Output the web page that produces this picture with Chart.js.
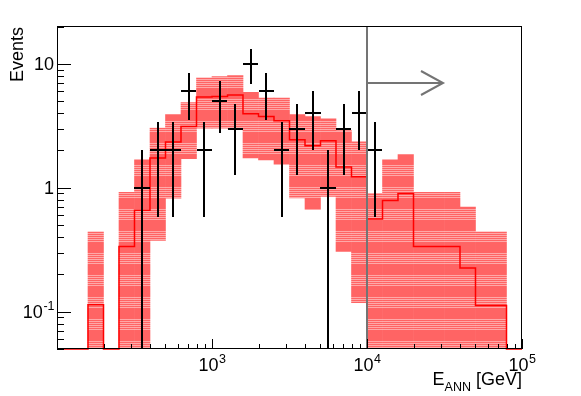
<!DOCTYPE html>
<html>
<head>
<meta charset="utf-8">
<script src="https://cdn.jsdelivr.net/npm/chart.js@4.4.1/dist/chart.umd.min.js"></script>
<style>
  html, body { margin: 0; padding: 0; background: #fff; }
</style>
</head>
<body>
<canvas id="chart" width="581" height="396"></canvas>
<script>
// bin centres in GeV, 10 bins per decade from 10^2 to 10^5
const energies = [112.2, 141.3, 177.8, 223.9, 281.8, 354.8, 446.7, 562.3, 707.9, 891.3,
  1122, 1413, 1778, 2239, 2818, 3548, 4467, 5623, 7079, 8913,
  11220, 14130, 17780, 22390, 28180, 35480, 44670, 56230, 70790, 89130];

// expected events (red histogram)
const expected = [0, 0, 0.114, 0, 0.336, 0.66, 1.74, 2.34, 3.12, 5.4,
  5.45, 5.6, 3.95, 3.76, 3.47, 2.44, 2.18, 2.39, 1.47, 1.23,
  0.56, 0.79, 0.9, 0.336, 0.336, 0.336, 0.225, 0.112, 0.112, 0];

// uncertainty band around the expectation (0 = below the axis)
const bandLow = [0, 0, 0, 0, 0, 0, 0.376, 0.826, 1.72, 3.03,
  3.03, 3.03, 1.74, 1.68, 1.55, 0.83, 0.665, 0.85, 0.306, 0.118,
  0, 0, 0, 0, 0, 0, 0, 0, 0, 0];
const bandHigh = [0, 0, 0.44, 0, 0.917, 1.68, 3.03, 3.9, 4.87, 7.7,
  7.9, 8.05, 5.9, 5.3, 5.3, 3.9, 3.75, 3.6, 2.9, 2.35,
  0.9, 1.68, 1.85, 0.92, 0.917, 0.917, 0.7, 0.44, 0.44, 0];

// observed events (black crosses)
const events = [0, 0, 0, 0, 0, 1, 2, 2, 6, 2,
  5, 3, 10, 6, 2, 3, 4, 1, 3, 4,
  2, 0, 0, 0, 0, 0, 0, 0, 0, 0];

const xMin = 100, xMax = 1e5;
const yMin = 0.05, yMax = 20.2;
const xLabels = [1e3, 1e4, 1e5];
const yLabels = [0.1, 1, 10];
const cutEnergy = 1e4;
const arrowLevel = 7;
const arrowEnd = 3.08e4;

const binStep = Math.pow(10, 0.05); // half a bin in log space
const FONT = '"Liberation Sans", Arial, Helvetica, sans-serif';

function hatch(ctx) {
  const c = document.createElement('canvas');
  c.width = 4; c.height = 22;
  const g = c.getContext('2d');
  g.fillStyle = '#ff6464';
  g.fillRect(0, 0, 4, 22);
  g.fillStyle = '#ffa8a8';
  for (let r = 11; r < 22; r += 2) g.fillRect(0, r, 4, 1);
  return ctx.createPattern(c, 'repeat');
}

// "10" with a superscript, like ROOT draws it
function powerLabel(ctx, base, exp, ax, by, align) {
  ctx.font = '18px ' + FONT;
  const wb = ctx.measureText(base).width;
  ctx.font = '12.5px ' + FONT;
  const we = exp ? ctx.measureText(exp).width : 0;
  const w = wb + we;
  const left = align === 'right' ? ax - w : ax - w / 2;
  ctx.textAlign = 'left';
  ctx.textBaseline = 'alphabetic';
  ctx.font = '18px ' + FONT;
  ctx.fillText(base, left, by);
  if (exp) {
    ctx.font = '12.5px ' + FONT;
    ctx.fillText(exp, left + wb + 0.5, by - 8);
  }
}

function powerParts(v) {
  const p = Math.round(Math.log10(v));
  if (p === 0) return ['1', ''];
  if (p === 1) return ['10', ''];
  return ['10', String(p)];
}

const rootStyle = {
  id: 'rootStyle',
  afterDatasetsDraw(chart) {
    const { ctx, chartArea: a, scales: { x, y } } = chart;
    ctx.save();

    // observed events with sqrt(N) error bars
    ctx.strokeStyle = '#000';
    ctx.lineWidth = 2;
    events.forEach((n, i) => {
      if (!n) return;
      const e = energies[i];
      const cx = Math.round(x.getPixelForValue(e));
      const cy = Math.round(y.getPixelForValue(n));
      const err = Math.sqrt(n);
      const top = Math.max(y.getPixelForValue(n + err), a.top);
      const bot = n - err > 0 ? Math.min(y.getPixelForValue(n - err), a.bottom) : a.bottom;
      ctx.beginPath();
      ctx.moveTo(Math.round(x.getPixelForValue(e / binStep)), cy);
      ctx.lineTo(Math.round(x.getPixelForValue(e * binStep)), cy);
      ctx.moveTo(cx, Math.round(top));
      ctx.lineTo(cx, Math.round(bot));
      ctx.stroke();
    });

    // cut line and arrow
    const cx = Math.round(x.getPixelForValue(cutEnergy));
    const ay = Math.round(y.getPixelForValue(arrowLevel));
    const ax = Math.round(x.getPixelForValue(arrowEnd));
    ctx.strokeStyle = '#747474';
    ctx.lineWidth = 2;
    ctx.beginPath();
    ctx.moveTo(cx, a.top);
    ctx.lineTo(cx, a.bottom);
    ctx.moveTo(cx, ay);
    ctx.lineTo(ax, ay);
    ctx.moveTo(ax - 22, ay - 12);
    ctx.lineTo(ax, ay);
    ctx.lineTo(ax - 22, ay + 12);
    ctx.stroke();

    // frame
    ctx.strokeStyle = '#000';
    ctx.lineWidth = 1;
    ctx.strokeRect(Math.round(a.left) + 0.5, Math.round(a.top) + 0.5,
      Math.round(a.right - a.left) - 1, Math.round(a.bottom - a.top) - 1);

    // ticks
    ctx.beginPath();
    for (let d = -2; d <= 1; d++) {
      for (let m = 1; m <= 9; m++) {
        const v = m * Math.pow(10, d);
        if (v < yMin || v > yMax) continue;
        const py = Math.round(y.getPixelForValue(v)) + 0.5;
        ctx.moveTo(a.left, py);
        ctx.lineTo(a.left + (m === 1 ? 14 : 7), py);
      }
    }
    for (let d = 2; d <= 5; d++) {
      for (let m = 1; m <= 9; m++) {
        const v = m * Math.pow(10, d);
        if (v < xMin || v > xMax) continue;
        const px = Math.round(x.getPixelForValue(v)) + 0.5;
        ctx.moveTo(px, a.bottom);
        ctx.lineTo(px, a.bottom - (m === 1 ? 10 : 5));
      }
    }
    ctx.stroke();

    // tick labels
    ctx.fillStyle = '#000';
    yLabels.forEach(v => {
      const [b, p] = powerParts(v);
      powerLabel(ctx, b, p, a.left - 3, y.getPixelForValue(v) + 6.5, 'right');
    });
    xLabels.forEach(v => {
      const [b, p] = powerParts(v);
      powerLabel(ctx, b, p, x.getPixelForValue(v), a.bottom + 22, 'center');
    });

    // axis titles
    ctx.font = '18px ' + FONT;
    const t1 = 'E', t2 = 'ANN', t3 = ' [GeV]';
    const w1 = ctx.measureText(t1).width, w3 = ctx.measureText(t3).width;
    ctx.font = '12.5px ' + FONT;
    const w2 = ctx.measureText(t2).width;
    const tx = a.right - (w1 + w2 + w3);
    const ty = a.bottom + 35.5;
    ctx.textAlign = 'left';
    ctx.font = '18px ' + FONT;
    ctx.fillText(t1, tx, ty);
    ctx.font = '12.5px ' + FONT;
    ctx.fillText(t2, tx + w1, ty + 6);
    ctx.font = '18px ' + FONT;
    ctx.fillText(t3, tx + w1 + w2, ty);

    ctx.translate(23, a.top + 1);
    ctx.rotate(-Math.PI / 2);
    ctx.textAlign = 'right';
    ctx.fillText('Events', 0, 0);
    ctx.restore();
  }
};

const canvas = document.getElementById('chart');
const ctx = canvas.getContext('2d');

const bandData = [];
energies.forEach((e, i) => {
  if (bandHigh[i] > 0) bandData.push({ x: e, y: [bandLow[i] > 0 ? bandLow[i] : yMin / 10, bandHigh[i]] });
});

// empty bins sit on the lower frame, as ROOT draws them
const histData = energies.map((e, i) => ({ x: e / binStep, y: Math.max(expected[i], yMin) }));
histData.push({ x: energies[energies.length - 1] * binStep, y: Math.max(expected[expected.length - 1], yMin) });

const dataPoints = [];
energies.forEach((e, i) => { if (events[i] > 0) dataPoints.push({ x: e, y: events[i] }); });

new Chart(ctx, {
  type: 'bar',
  data: {
    datasets: [
      {
        type: 'scatter',
        label: 'Data',
        data: dataPoints,
        pointRadius: 0,
        showLine: false,
        order: 1
      },
      {
        type: 'line',
        label: 'Expected',
        data: histData,
        borderColor: '#ff0000',
        borderWidth: 1.5,
        pointRadius: 0,
        stepped: true,
        fill: false,
        clip: 3,
        order: 2
      },
      {
        type: 'bar',
        label: 'Uncertainty',
        data: bandData,
        backgroundColor: hatch(ctx),
        borderWidth: 0,
        barPercentage: 1,
        categoryPercentage: 1,
        order: 3
      }
    ]
  },
  options: {
    responsive: false,
    animation: false,
    devicePixelRatio: 1,
    layout: { padding: { left: 57, right: 59, top: 26, bottom: 47 } },
    plugins: { legend: { display: false }, tooltip: { enabled: false } },
    scales: {
      x: {
        type: 'logarithmic', min: xMin, max: xMax, display: false, offset: false,
        afterBuildTicks: s => { s.ticks = xLabels.map(v => ({ value: v })); }
      },
      y: { type: 'logarithmic', min: yMin, max: yMax, display: false }
    }
  },
  plugins: [rootStyle]
});
</script>
</body>
</html>
